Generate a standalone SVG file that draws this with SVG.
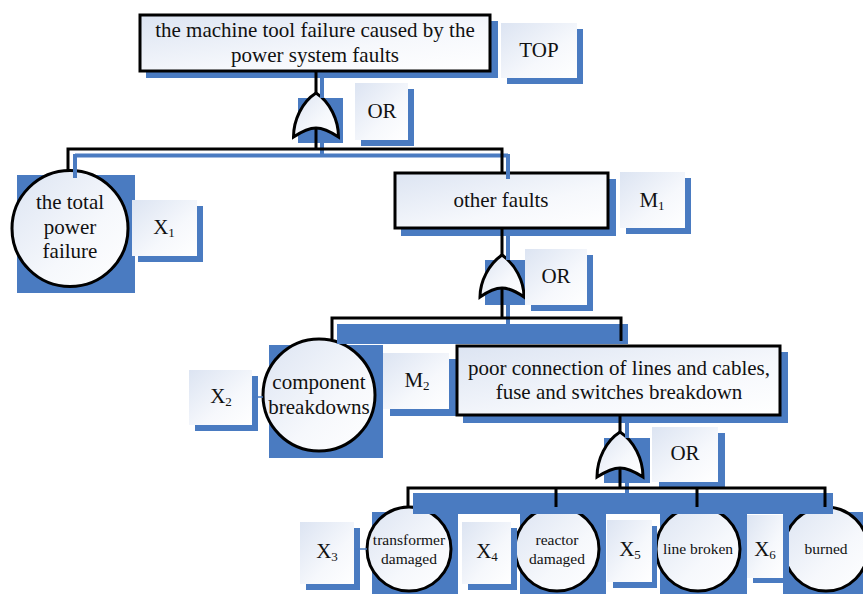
<svg xmlns="http://www.w3.org/2000/svg" width="863" height="594" viewBox="0 0 863 594">
<defs>
<linearGradient id="g" x1="0" y1="0" x2="1" y2="1">
<stop offset="0" stop-color="#dce4f2"/>
<stop offset="0.6" stop-color="#f6f8fc"/>
<stop offset="1" stop-color="#ffffff"/>
</linearGradient>
</defs>
<style>
.sh{fill:#4A7BC1}
.box{fill:url(#g);stroke:#000;stroke-width:3}
.lbl{fill:url(#g)}
.t{font-family:"Liberation Serif","Times New Roman",serif;font-size:21px;fill:#111;text-anchor:middle}
.ts{font-size:15.5px}
.sub{font-size:13px}
.k{fill:none;stroke:#000;stroke-width:3}
.b{fill:none;stroke:#4A7BC1;stroke-width:4}
.bt{fill:none;stroke:#4A7BC1;stroke-width:1.5}
</style>
<rect width="863" height="594" fill="#fff"/>

<g id="top">
<rect class="sh" x="146" y="21" width="352" height="57"/>
<rect class="box" x="140" y="15" width="350" height="56"/>
<text class="t" x="315" y="37">the machine tool failure caused by the</text>
<text class="t" x="315" y="62">power system faults</text>
</g>
<g id="lbl-top">
<rect class="sh" x="507" y="29" width="76" height="55"/>
<rect class="lbl" x="501" y="23" width="76" height="55"/>
<text class="t" x="539" y="57">TOP</text>
</g>
<g id="gate1">
<rect class="sh" x="298" y="98" width="45" height="45"/>
<path class="box" d="M316,93 C330,102 338.5,120 338.5,137 C328,130 322,128 316,128 C310,128 304,130 293.5,137 C293.5,120 302,102 316,93 Z"/>
</g>
<g id="lbl-or1">
<rect class="sh" x="361" y="89" width="53" height="57"/>
<rect class="lbl" x="355" y="83" width="53" height="57"/>
<text class="t" x="382" y="118">OR</text>
</g>

<g id="x1-event">
<rect class="sh" x="17" y="175" width="118" height="118"/>
<circle class="box" cx="70" cy="228.5" r="58"/>
<text class="t" x="70" y="209">the total</text>
<text class="t" x="70" y="234">power</text>
<text class="t" x="70" y="258">failure</text>
</g>
<g id="lbl-x1">
<rect class="sh" x="138" y="206" width="65" height="56"/>
<rect class="lbl" x="132" y="200" width="65" height="56"/>
<text class="t" x="164" y="234">X<tspan class="sub" dy="3">1</tspan></text>
</g>

<g id="m1">
<rect class="sh" x="401" y="179" width="215" height="57"/>
<rect class="box" x="395" y="173" width="213" height="55"/>
<text class="t" x="501" y="207">other faults</text>
</g>
<g id="lbl-m1">
<rect class="sh" x="626" y="178" width="65" height="56"/>
<rect class="lbl" x="620" y="172" width="65" height="56"/>
<text class="t" x="652" y="207">M<tspan class="sub" dy="3">1</tspan></text>
</g>
<g id="gate2">
<rect class="sh" x="485" y="260" width="45" height="45"/>
<path class="box" d="M502,255 C515,264 524,281 524,297 C514,290 508,288 502,288 C496,288 490,290 480,297 C480,281 489,264 502,255 Z"/>
</g>
<g id="lbl-or2">
<rect class="sh" x="531" y="255" width="62" height="56"/>
<rect class="lbl" x="525" y="249" width="62" height="56"/>
<text class="t" x="556" y="283">OR</text>
</g>

<g id="x2-event">
<rect class="sh" x="269" y="345" width="114" height="113"/>
<circle class="box" cx="319" cy="395" r="56"/>
<text class="t" x="319" y="389">component</text>
<text class="t" x="319" y="414">breakdowns</text>
</g>
<g id="lbl-x2">
<rect class="sh" x="195" y="376" width="63" height="55"/>
<rect class="lbl" x="189" y="370" width="63" height="55"/>
<text class="t" x="221" y="403">X<tspan class="sub" dy="3">2</tspan></text>
</g>
<g id="lbl-m2">
<rect class="sh" x="390" y="359" width="66" height="57"/>
<rect class="lbl" x="383" y="353" width="66" height="56"/>
<text class="t" x="417" y="387">M<tspan class="sub" dy="3">2</tspan></text>
</g>

<g id="m2">
<rect class="sh" x="463" y="352" width="325" height="71"/>
<rect class="box" x="457" y="346" width="323" height="69"/>
<text class="t" x="619" y="375">poor connection of lines and cables,</text>
<text class="t" x="619" y="399">fuse and switches breakdown</text>
</g>
<g id="gate3">
<rect class="sh" x="604" y="438" width="46" height="45"/>
<path class="box" d="M620,432 C634,441 643,459 643,477 C632,470 626,468 620,468 C614,468 608,470 597,477 C597,459 606,441 620,432 Z"/>
</g>
<g id="lbl-or3">
<rect class="sh" x="659" y="433" width="66" height="55"/>
<rect class="lbl" x="652" y="427" width="66" height="55"/>
<text class="t" x="685" y="460">OR</text>
</g>

<g id="x3-event">
<rect class="sh" x="372" y="512" width="86" height="86"/>
<circle class="box" cx="409" cy="549" r="42"/>
<text class="t ts" x="409" y="545">transformer</text>
<text class="t ts" x="409" y="564">damaged</text>
</g>
<g id="lbl-x3">
<rect class="sh" x="306" y="528" width="54" height="62"/>
<rect class="lbl" x="300" y="522" width="54" height="62"/>
<text class="t" x="327" y="558">X<tspan class="sub" dy="3">3</tspan></text>
</g>
<g id="x4-event">
<rect class="sh" x="520" y="512" width="86" height="86"/>
<circle class="box" cx="557" cy="549" r="42"/>
<text class="t ts" x="557" y="545">reactor</text>
<text class="t ts" x="557" y="564">damaged</text>
</g>
<g id="lbl-x4">
<rect class="sh" x="468" y="528" width="49" height="62"/>
<rect class="lbl" x="462" y="522" width="49" height="62"/>
<text class="t" x="487" y="558">X<tspan class="sub" dy="3">4</tspan></text>
</g>
<g id="x5-event">
<rect class="sh" x="660" y="512" width="87" height="86"/>
<circle class="box" cx="698" cy="549" r="42"/>
<text class="t ts" x="698" y="554">line broken</text>
</g>
<g id="lbl-x5">
<rect class="sh" x="613" y="526" width="44" height="62"/>
<rect class="lbl" x="607" y="520" width="45" height="62"/>
<text class="t" x="630" y="556">X<tspan class="sub" dy="3">5</tspan></text>
</g>
<g id="x6-event">
<rect class="sh" x="783" y="512" width="90" height="86"/>
<circle class="box" cx="826" cy="549" r="42"/>
<text class="t ts" x="826" y="554">burned</text>
</g>
<g id="lbl-x6">
<rect class="sh" x="753" y="521" width="36" height="62"/>
<rect class="lbl" x="747" y="515" width="36" height="63"/>
<text class="t" x="765" y="556">X<tspan class="sub" dy="3">6</tspan></text>
</g>

<g id="connectors">
<path class="b" d="M322,78 V98 M322,143 V155 M75,155.5 H508 M75,154 V178 M508,154 V179"/>
<path class="b" d="M508,236 V260 M508,305 V324 M627,423 V438 M627,483 V493"/>
<rect class="sh" x="337" y="324" width="291" height="20"/>
<rect class="sh" x="413" y="493" width="420" height="21"/>
<path class="bt" d="M252,397 H263 M354,549 H367 M511,549 H516 M652,549 H656"/>
<path class="k" d="M316,71 V93 M316,128 V149 M68,171 V149 H502 V173"/>
<path class="k" d="M502,228 V255 M502,288 V318 M332,339 V318 H621 V341"/>
<path class="k" d="M620,415 V432 M620,468 V488 M408,507 V488 H825 V507 M556,488 V507 M697,488 V507"/>
</g>
</svg>
